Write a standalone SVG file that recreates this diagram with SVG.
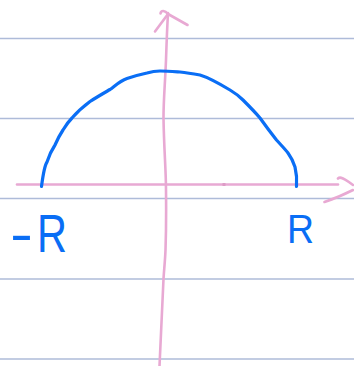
<svg xmlns="http://www.w3.org/2000/svg" width="354" height="366" viewBox="0 0 354 366">
<style>
.rule{stroke:#aebbd9;stroke-width:1.3;fill:none}
.pink{stroke:#e8a9d3;stroke-width:2.6;fill:none;stroke-linecap:round;stroke-linejoin:round}
.blue{stroke:#0a6ef5;stroke-width:3.2;fill:none;stroke-linecap:round;stroke-linejoin:round}
.lbl{fill:#0a6ef5;font-family:"Liberation Sans","DejaVu Sans",sans-serif}
</style>
<rect width="354" height="366" fill="#ffffff"/>
<g id="rules">
<line class="rule" x1="0" y1="38.5" x2="354" y2="38.5"/>
<line class="rule" x1="0" y1="118.5" x2="354" y2="118.5"/>
<line class="rule" x1="0" y1="198.5" x2="354" y2="198.5"/>
<line class="rule" x1="0" y1="279" x2="354" y2="279"/>
<line class="rule" x1="0" y1="359" x2="354" y2="359"/>
</g>
<g id="connectors">
<g id="y-axis">
<path class="pink" d="M168,13 C167,30 166.5,45 166,60 C165,85 163.5,100 163.5,118 C164,150 166,170 166,190 C166.3,215 166,235 165.5,250 C165,262 164,270 163.5,279 C162,310 160.5,340 159.5,366"/>
<path class="pink" d="M155,31.5 L168,14 L187.5,25"/>
<path class="pink" d="M168,14 C165,10 161,10 160.5,13.5"/>
</g>
<g id="x-axis">
<path class="pink" d="M17,184.5 L338,184.5"/>
<path class="pink" d="M338,178.5 C340,176.5 343,177.5 353,185"/>
<path class="pink" d="M324.5,202 C335,198.5 345,194 353,190"/>
<rect x="222.5" y="183" width="3" height="3" fill="#dd9cc6"/>
</g>
</g>
<g id="semicircle">
<path class="blue" d="M41.5,186.5 C43,175 45,165 47,162 C50,153 53,148 55,145 C58,138 61,133 63,130 C66,125 69,121 72,118 C78,111 84,106 90,101.5 C97,97 104,93 110,89.5 C116,85 120,81 127,78.5 C134,76 140,74.5 147,73 C152,71.5 156,71 160,71 C167,71 173,71.5 180,72 C188,73 194,74 200,75 C210,78 220,84 230,90 C235,93 239,96 243,100 C249,106 255,112 260,118 C265,125 271,133 276.5,140 C281,145 285,149 288,153 C291,157 293,161 295,167 C296.5,173 297,180 296.5,186.5"/>
</g>
<g id="labels">
<text class="lbl" y="252" font-size="53"><tspan x="10" textLength="23" lengthAdjust="spacingAndGlyphs">-</tspan><tspan x="37" textLength="30" lengthAdjust="spacingAndGlyphs">R</tspan></text>
<text class="lbl" x="287" y="243" font-size="41" textLength="27" lengthAdjust="spacingAndGlyphs">R</text>
</g>
</svg>
